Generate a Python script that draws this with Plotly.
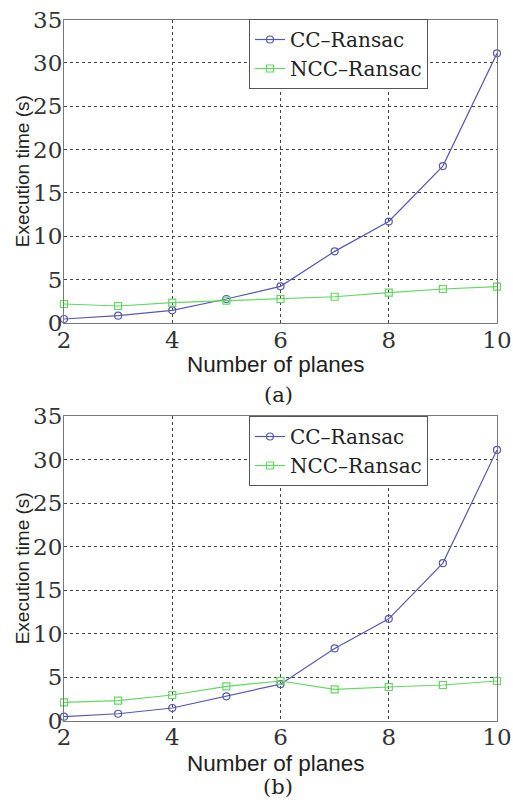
import plotly.graph_objects as go

x_planes = [2, 3, 4, 5, 6, 7, 8, 9, 10]
cc_a = [0.46, 0.85, 1.46, 2.77, 4.23, 8.26, 11.7, 18.1, 31.1]
ncc_a = [2.19, 1.96, 2.34, 2.57, 2.77, 3.03, 3.5, 3.92, 4.19]
cc_b = [0.46, 0.8, 1.46, 2.8, 4.2, 8.3, 11.7, 18.1, 31.1]
ncc_b = [2.1, 2.3, 2.95, 3.95, 4.56, 3.6, 3.87, 4.1, 4.56]
x_ticks = [2, 4, 6, 8, 10]
y_ticks = [0, 5, 10, 15, 20, 25, 30, 35]
series_names = ["CC\u2013Ransac", "NCC\u2013Ransac"]
captions = ["(a)", "(b)"]
x_title = "Number of planes"
y_title = "Execution time (s)"

CC_COLOR = "#5858b0"
NCC_COLOR = "#62d862"
W, H = 513, 804
L, R = 64, 16

def py(px):
    return 1 - px / H

fig = go.Figure()
panels = [(cc_a, ncc_a, "x", "y", "legend"), (cc_b, ncc_b, "x2", "y2", "legend2")]
for cc, ncc, xa, ya, lg in panels:
    fig.add_trace(go.Scatter(x=x_planes, y=cc, name=series_names[0], mode="lines+markers",
                             line=dict(color=CC_COLOR, width=1.2),
                             marker=dict(symbol="circle-open", size=7, color=CC_COLOR, line=dict(width=1.2)),
                             xaxis=xa, yaxis=ya, legend=lg, cliponaxis=False))
    fig.add_trace(go.Scatter(x=x_planes, y=ncc, name=series_names[1], mode="lines+markers",
                             line=dict(color=NCC_COLOR, width=1.2),
                             marker=dict(symbol="square-open", size=7, color=NCC_COLOR, line=dict(width=1.2)),
                             xaxis=xa, yaxis=ya, legend=lg, cliponaxis=False))

tickfont = dict(family="DejaVu Serif", size=23, color="#333")
common = dict(showgrid=True, gridcolor="#444", griddash="dot", gridwidth=1,
              showline=True, linecolor="#777", linewidth=1.2, mirror=True,
              zeroline=False, ticks="", ticklen=0, tickfont=tickfont, automargin=False,
              ticklabelstandoff=-4)
common_x = dict(range=[2, 10], tickvals=x_ticks, **common)
common_y = dict(range=[0, 35], tickvals=y_ticks, **common)

dom_a = [py(323), py(19.5)]
dom_b = [py(720.7), py(416)]

legend_common = dict(font=dict(family="DejaVu Serif", size=20, color="#222"),
                     bgcolor="white", bordercolor="#555", borderwidth=1,
                     xanchor="left", yanchor="top", tracegroupgap=0, itemwidth=30)

fig.update_layout(
    width=W, height=H, paper_bgcolor="white", plot_bgcolor="white",
    margin=dict(l=L, r=R, t=0, b=0, pad=0),
    showlegend=True,
    xaxis=dict(domain=[0, 1], anchor="y", **common_x),
    yaxis=dict(domain=dom_a, anchor="x", **common_y),
    xaxis2=dict(domain=[0, 1], anchor="y2", **common_x),
    yaxis2=dict(domain=dom_b, anchor="x2", **common_y),
    legend=dict(x=(249 - L) / (W - L - R), y=py(19), **legend_common),
    legend2=dict(x=(249 - L) / (W - L - R), y=py(416), **legend_common),
)

xfont = dict(family="Liberation Sans", size=22.5, color="#222")
yfont = dict(family="Liberation Sans", size=19, color="#222")
cfont = dict(family="DejaVu Serif", size=21, color="#222")
specs = [(py(364), py(395), dom_a, captions[0]), (py(763), py(787), dom_b, captions[1])]
for xt_y, cap_y, dom, cap in specs:
    fig.add_annotation(text=x_title, x=0.49, y=xt_y, xref="paper", yref="paper",
                       xanchor="center", yanchor="middle", showarrow=False, font=xfont)
    fig.add_annotation(text=cap, x=0.495, y=cap_y, xref="paper", yref="paper",
                       xanchor="center", yanchor="middle", showarrow=False, font=cfont)
    fig.add_annotation(text=y_title, x=(22 - L) / (W - L - R), y=(dom[0] + dom[1]) / 2,
                       xref="paper", yref="paper", textangle=-90,
                       xanchor="center", yanchor="middle", showarrow=False, font=yfont)

fig.write_html("out.html", config={"displayModeBar": False},
               post_script="document.body.style.margin='0px';")
